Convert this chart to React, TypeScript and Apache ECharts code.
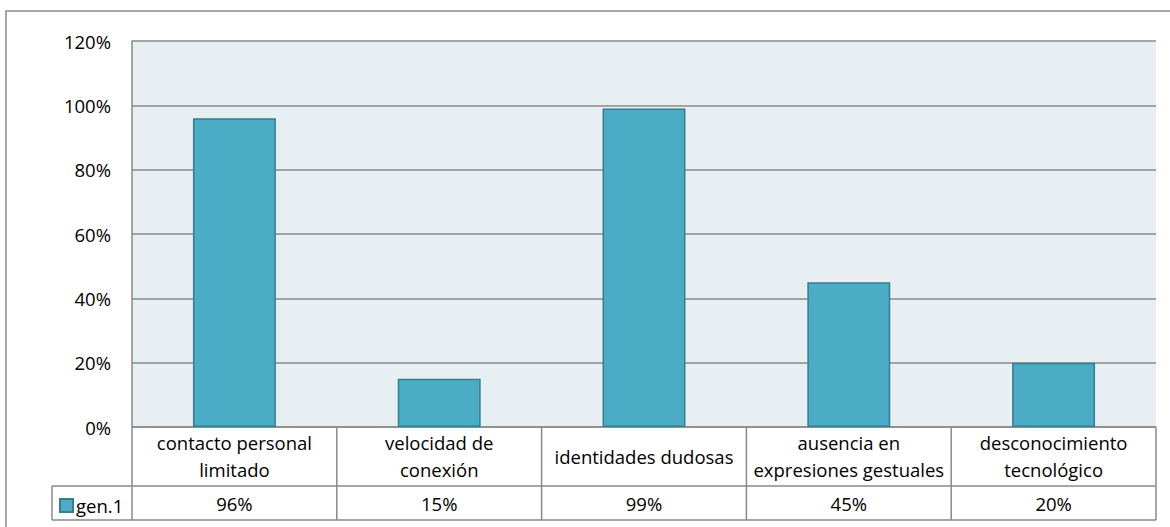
import React, { useEffect, useRef } from "react";
import * as echarts from "echarts";

// Chart data
const categories = [
  "contacto personal\nlimitado",
  "velocidad de\nconexión",
  "identidades dudosas",
  "ausencia en\nexpresiones gestuales",
  "desconocimiento\ntecnológico",
];
const seriesName = "gen.1";
const values = [96, 15, 99, 45, 20];
const yTicks = { min: 0, max: 120, interval: 20 };

// Layout (px)
const W = 1170;
const H = 527;
const PLOT_L = 132;
const PLOT_R = 1156;
const PLOT_T = 41;
const PLOT_B = 427;
const ROW1_B = 486;
const ROW2_B = 520;
const KEY_L = 52;

const FONT = "'Open Sans', sans-serif";
const FS = 18.5;
const LINE = "#8a8a8a";
const BAR = "#4BACC6";
const BAR_EDGE = "#357D91";

export default function App() {
  const ref = useRef<HTMLDivElement>(null);

  useEffect(() => {
    document.body.style.margin = "0";
    const chart = echarts.init(ref.current!, null, { renderer: "svg" });

    const colW = (PLOT_R - PLOT_L) / categories.length;
    const lineStyle = { stroke: LINE, lineWidth: 1.5 };
    const tableLines: any[] = [
      { type: "line", shape: { x1: PLOT_L, y1: PLOT_B, x2: PLOT_R, y2: PLOT_B }, style: lineStyle },
      { type: "line", shape: { x1: KEY_L, y1: ROW1_B, x2: PLOT_R, y2: ROW1_B }, style: lineStyle },
      { type: "line", shape: { x1: KEY_L, y1: ROW2_B, x2: PLOT_R, y2: ROW2_B }, style: lineStyle },
      { type: "line", shape: { x1: KEY_L, y1: ROW1_B, x2: KEY_L, y2: ROW2_B }, style: lineStyle },
    ];
    for (let i = 0; i <= categories.length; i++) {
      const x = PLOT_L + colW * i;
      tableLines.push({
        type: "line",
        shape: { x1: x, y1: PLOT_B, x2: x, y2: ROW2_B },
        style: lineStyle,
      });
    }

    chart.setOption({
      animation: false,
      textStyle: { fontFamily: FONT },
      grid: {
        left: PLOT_L,
        right: W - PLOT_R,
        top: PLOT_T,
        bottom: H - PLOT_B,
        show: true,
        backgroundColor: "#E8EFF3",
        borderWidth: 0,
      },
      legend: {
        left: KEY_L + 7,
        top: ROW1_B + 10,
        itemWidth: 13,
        itemHeight: 13,
        itemGap: 0,
        icon: "rect",
        padding: 0,
        textStyle: { fontFamily: FONT, fontSize: FS, color: "#000", padding: [0, 0, 0, -2] },
        data: [seriesName],
      },
      xAxis: [
        {
          type: "category",
          data: categories,
          position: "bottom",
          axisLine: { show: false },
          axisTick: { show: false },
          axisLabel: {
            interval: 0,
            margin: 29,
            verticalAlign: "middle",
            fontFamily: FONT,
            fontSize: FS,
            lineHeight: 27,
            color: "#000",
          },
        },
        {
          type: "category",
          data: categories,
          position: "bottom",
          axisLine: { show: false },
          axisTick: { show: false },
          axisLabel: {
            interval: 0,
            margin: 76,
            verticalAlign: "middle",
            fontFamily: FONT,
            fontSize: FS,
            color: "#000",
            formatter: (_: string, i: number) => `${values[i]}%`,
          },
        },
      ],
      yAxis: {
        type: "value",
        min: yTicks.min,
        max: yTicks.max,
        interval: yTicks.interval,
        axisLine: { show: true, lineStyle: { color: LINE, width: 1.5 } },
        axisTick: { show: false },
        axisLabel: {
          margin: 21,
          fontFamily: FONT,
          fontSize: FS,
          color: "#000",
          formatter: "{value}%",
        },
        splitLine: { show: true, lineStyle: { color: LINE, width: 1.5 } },
      },
      series: [
        {
          name: seriesName,
          type: "bar",
          data: values,
          barWidth: "40.5%",
          itemStyle: { color: BAR, borderColor: BAR_EDGE, borderWidth: 1.5 },
        },
      ],
      graphic: [
        {
          type: "rect",
          shape: { x: 6, y: 11, width: W, height: H },
          style: { fill: "none", stroke: LINE, lineWidth: 1.5 },
          silent: true,
        },
        ...tableLines,
      ],
    });

    return () => chart.dispose();
  }, []);

  return <div ref={ref} style={{ width: W, height: H }} />;
}
